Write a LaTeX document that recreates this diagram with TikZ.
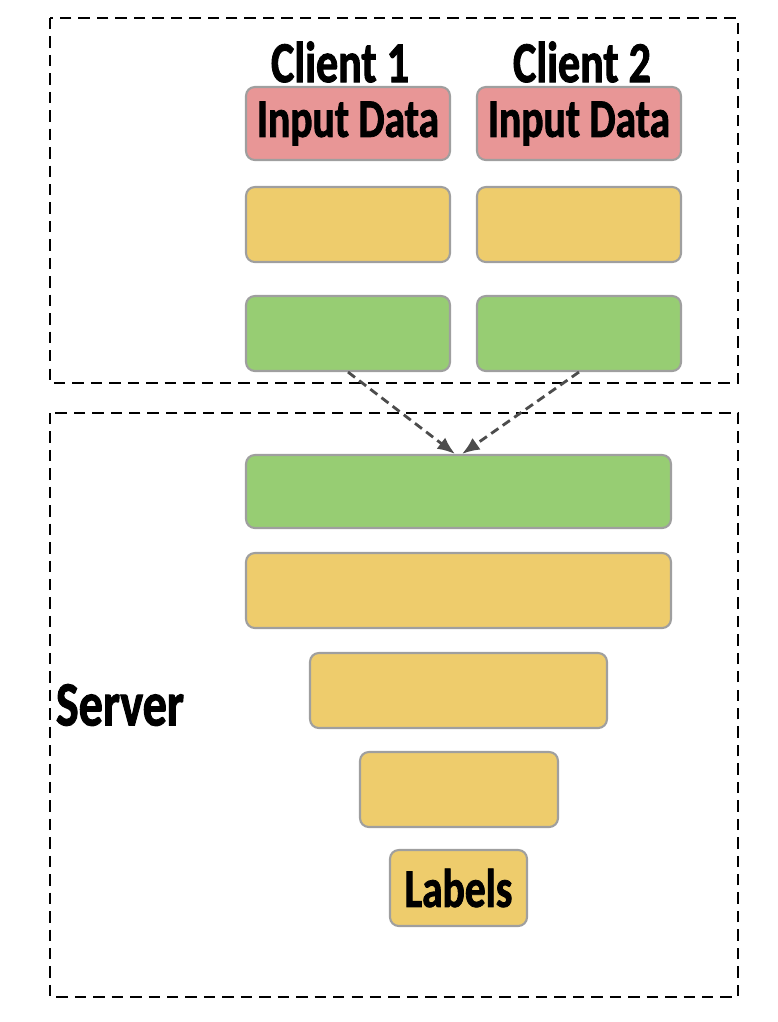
\documentclass[tikz,border=0pt]{standalone}
\usepackage{fontspec}
\usetikzlibrary{arrows.meta}
\newfontfamily\boxfont[FakeStretch=0.76,FakeBold=1.5]{Carlito Bold}

\definecolor{inred}{RGB}{232,150,150}
\definecolor{hidyellow}{RGB}{238,204,108}
\definecolor{cutgreen}{RGB}{151,205,115}

\tikzstyle{layer}=[draw=gray!75,line width=1.2pt,rounded corners=5pt,inner sep=0pt,
                   font=\boxfont\fontsize{31}{31}\selectfont]
\tikzstyle{inbox}=[layer,fill=inred]
\tikzstyle{hidbox}=[layer,fill=hidyellow]
\tikzstyle{cutbox}=[layer,fill=cutgreen]
\tikzstyle{party}=[font=\boxfont\fontsize{33}{33}\selectfont,inner sep=0pt]
\tikzstyle{frame}=[draw=black,line width=1.6pt,dash pattern=on 6.5pt off 4pt]
\tikzstyle{send}=[draw=black!70,line width=1.6pt,dash pattern=on 5pt off 3pt,-{Latex[length=10pt,width=8pt]}]

\begin{document}
\begin{tikzpicture}[x=0.02cm,y=-0.02cm]
    \useasboundingbox (0,0) rectangle (778,1022);
    %Frames
    \draw[frame] (50,18) rectangle (738,383);
    \draw[frame] (50,413) rectangle (738,997);
    %Client names
    \node[party] (c1) at (340,62) {Client 1};
    \node[party] (c2) at (582,62) {Client 2};
    %Client layers
    \foreach \x/\name in {348/1, 579/2}{
        \node[inbox,minimum width=4.08cm,minimum height=1.46cm] (in\name) at (\x,123.5) {Input Data};
        \node[hidbox,minimum width=4.08cm,minimum height=1.5cm] (hid\name) at (\x,224.5) {};
        \node[cutbox,minimum width=4.08cm,minimum height=1.5cm] (cut\name) at (\x,333.5) {};
    }
    %Server layers
    \node[cutbox,minimum width=8.5cm,minimum height=1.46cm] (top) at (458.5,491.5) {};
    \node[hidbox,minimum width=8.5cm,minimum height=1.5cm] (s1) at (458.5,590.5) {};
    \node[hidbox,minimum width=5.94cm,minimum height=1.5cm] (s2) at (458.5,690.5) {};
    \node[hidbox,minimum width=3.96cm,minimum height=1.5cm] (s3) at (459,789.5) {};
    \node[hidbox,minimum width=2.74cm,minimum height=1.52cm] (lab) at (458.5,888) {Labels};
    \node[party,font=\boxfont\fontsize{36}{36}\selectfont] (srv) at (120,705) {Server};
    %Cut layer outputs
    \draw[send] (cut1.south) -- ([xshift=-0.07cm]top.north);
    \draw[send] (cut2.south) -- ([xshift=0.07cm]top.north);
\end{tikzpicture}
\end{document}
